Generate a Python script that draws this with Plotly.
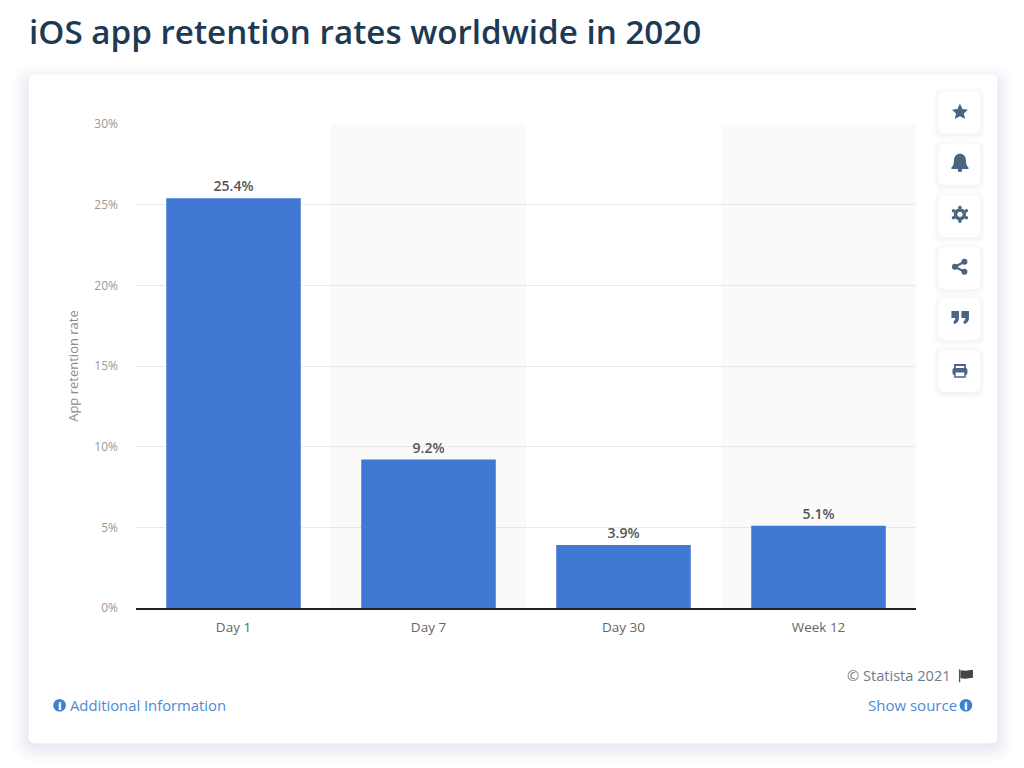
import plotly.graph_objects as go

FONT = "Open Sans"

categories = ["Day 1", "Day 7", "Day 30", "Week 12"]
retention = [25.4, 9.2, 3.9, 5.1]
y_ticks = [0, 5, 10, 15, 20, 25, 30]
y_tick_labels = ["0%", "5%", "10%", "15%", "20%", "25%", "30%"]
shaded_bands = [1, 3]

# the page body has an 8px margin, so the figure is a bit smaller than the window
BODY = 8
W = 1024 - BODY
H = 768 - BODY
LEFT, RIGHT, TOP, BOTTOM = 135.5, 916.5, 123.5, 608.5


# decoration is written in screen pixels, paper coords are relative to the plot area
def px(x, y):
    return (x - LEFT) / (RIGHT - LEFT), (BOTTOM - y) / (BOTTOM - TOP)


def path(cmds):
    out = []
    for c in cmds:
        if len(c) == 1:
            out.append(c[0])
            continue
        nums = []
        for i in range(1, len(c), 2):
            a, b = px(c[i], c[i + 1])
            nums.append("%.5f,%.5f" % (a, b))
        out.append(c[0] + " ".join(nums))
    return " ".join(out)


def round_rect(x0, y0, x1, y1, r, fill, layer="below"):
    p = path([
        ("M", x0 + r, y0), ("L", x1 - r, y0), ("Q", x1, y0, x1, y0 + r),
        ("L", x1, y1 - r), ("Q", x1, y1, x1 - r, y1), ("L", x0 + r, y1),
        ("Q", x0, y1, x0, y1 - r), ("L", x0, y0 + r), ("Q", x0, y0, x0 + r, y0), ("Z",),
    ])
    return dict(type="path", xref="paper", yref="paper", path=p, fillcolor=fill,
                line=dict(width=0), layer=layer)


def circle(cx, cy, r, fill, layer="above"):
    a0, b0 = px(cx - r, cy - r)
    a1, b1 = px(cx + r, cy + r)
    return dict(type="circle", xref="paper", yref="paper", x0=a0, y0=b0, x1=a1, y1=b1,
                fillcolor=fill, line=dict(width=0), layer=layer)


def poly(points, fill):
    cmds = [("M",) + points[0]] + [("L",) + p for p in points[1:]] + [("Z",)]
    return dict(type="path", xref="paper", yref="paper", path=path(cmds), fillcolor=fill,
                line=dict(width=0), layer="above")


def label(text, x, y, size, color, anchor="left", weight=None):
    a, b = px(x, y)
    f = dict(family=FONT, size=size, color=color)
    if weight:
        f["weight"] = weight
    return dict(text=text, x=a, y=b, xref="paper", yref="paper", xanchor=anchor, yanchor="middle",
                showarrow=False, font=f)


shapes = []

# card and its soft shadow, sits low so the top edge is nearly invisible
for grow, col in [(16, "rgba(232,234,244,0.16)"), (12, "rgba(232,234,244,0.18)"), (8, "rgba(230,232,242,0.2)"),
                  (5, "rgba(228,230,240,0.25)"), (2, "rgba(222,224,234,0.3)")]:
    shapes.append(round_rect(28 - grow, 74 - grow + 6, 998 + grow, 744 + grow + 3, 8 + grow, col))
shapes.append(round_rect(28, 74, 998, 744, 6, "#ffffff"))

# alternate bands behind the bars
for b in shaded_bands:
    shapes.append(dict(type="rect", xref="x", yref="paper", x0=b - 0.5, x1=b + 0.5,
                       y0=0, y1=1, fillcolor="#fafafa", line=dict(width=0), layer="below"))

# toolbar buttons on the right
ICON = "#4a6484"
button_tops = [91, 143, 195, 247, 298, 350]
for top in button_tops:
    for grow, col in [(5, "rgba(225,228,238,0.1)"), (3, "rgba(225,228,238,0.15)"), (1, "rgba(225,228,238,0.2)")]:
        shapes.append(round_rect(939 - grow, top - grow + 1, 981 + grow, top + 42 + grow + 1, 6 + grow, col, "above"))
    shapes.append(round_rect(939, top, 981, top + 42, 6, "#ffffff", "above"))

# star
shapes.append(poly([(960.5, 103), (963, 108.5), (968.5, 109.2), (964.4, 113), (965.6, 118.5), (960.5, 115.7),
                    (955.4, 118.5), (956.6, 113), (952.5, 109.2), (958, 108.5)], ICON))
# bell
shapes.append(dict(type="path", xref="paper", yref="paper", line=dict(width=0), fillcolor=ICON, layer="above",
                   path=path([("M", 960.5, 153), ("Q", 966.5, 154, 966.5, 160), ("Q", 966.5, 165, 969, 167),
                              ("L", 969, 168.5), ("L", 952, 168.5), ("L", 952, 167),
                              ("Q", 954.5, 165, 954.5, 160), ("Q", 954.5, 154, 960.5, 153), ("Z",)])))
shapes.append(circle(960.5, 169.5, 2.2, ICON))
# gear
shapes.append(circle(960.5, 214, 6.2, ICON))
for dx, dy in [(0, -7), (0, 7), (-6.5, -3.5), (6.5, -3.5), (-6.5, 3.5), (6.5, 3.5)]:
    shapes.append(circle(960.5 + dx, 214 + dy, 1.7, ICON))
shapes.append(circle(960.5, 214, 2.6, "#ffffff"))
# share
shapes.append(circle(955.5, 266.5, 3, ICON))
shapes.append(circle(965, 261.5, 3, ICON))
shapes.append(circle(965, 271.5, 3, ICON))
shapes.append(poly([(955, 265.5), (964.5, 260.5), (965.5, 262.5), (956, 267.5)], ICON))
shapes.append(poly([(956, 265.5), (965.5, 270.5), (964.5, 272.5), (955, 267.5)], ICON))
# quote marks
for qx in [952, 962]:
    shapes.append(dict(type="path", xref="paper", yref="paper", line=dict(width=0), fillcolor=ICON, layer="above",
                       path=path([("M", qx, 311), ("L", qx + 7.5, 311), ("L", qx + 7.5, 318),
                                  ("Q", qx + 7.5, 323, qx + 2.5, 324), ("L", qx + 2, 321.5),
                                  ("Q", qx + 4, 320.5, qx + 4, 318), ("L", qx, 318), ("Z",)])))
# printer
shapes.append(round_rect(953, 368, 968, 375, 2, ICON, "above"))
shapes.append(dict(type="path", xref="paper", yref="paper", fillcolor="rgba(0,0,0,0)", layer="above",
                   line=dict(width=1.8, color=ICON),
                   path=path([("M", 955.5, 369), ("L", 955.5, 365), ("L", 965.5, 365), ("L", 965.5, 369)])))
shapes.append(round_rect(955.5, 372.5, 965.5, 377, 0.5, "#ffffff", "above"))
shapes.append(dict(type="path", xref="paper", yref="paper", fillcolor="rgba(0,0,0,0)", layer="above",
                   line=dict(width=1.5, color=ICON),
                   path=path([("M", 955.5, 372.5), ("L", 955.5, 377), ("L", 965.5, 377), ("L", 965.5, 372.5)])))

# info bubbles and the little flag
BLUE = "#4a8bd6"
INFO = "#3f7fd0"
shapes.append(circle(59, 706, 6.3, INFO))
shapes.append(circle(966.5, 706, 6.3, INFO))
shapes.append(poly([(959.5, 670), (960.8, 670), (960.8, 683), (959.5, 683)], "#555555"))
shapes.append(poly([(961, 671), (966, 671.5), (973.5, 670.5), (973.5, 678.5), (966, 679.5), (961, 679)], "#444444"))

annotations = [
    label("iOS app retention rates worldwide in 2020", 26, 31, 33.2, "#1d3a55", weight=600),
    label("© Statista 2021", 845, 676, 14.6, "#6f7b88"),
    label("Additional Information", 67, 706, 14.8, BLUE),
    label("Show source", 866, 706, 15, BLUE),
    label("i", 59, 706, 11, "#ffffff", "center", 800),
    label("i", 966.5, 706, 11, "#ffffff", "center", 800),
]

fig = go.Figure(go.Bar(
    x=categories,
    y=retention,
    width=0.69,
    marker=dict(color="#4178d4", line=dict(width=0)),
    texttemplate="%{y:.1f}%",
    textposition="outside",
    textfont=dict(family=FONT, size=14, color="#555555", weight=600),
    cliponaxis=False,
))

fig.update_layout(
    width=W,
    height=H,
    autosize=False,
    showlegend=False,
    paper_bgcolor="#ffffff",
    plot_bgcolor="rgba(0,0,0,0)",
    margin=dict(l=LEFT - BODY, r=W - (RIGHT - BODY), t=TOP - BODY, b=H - (BOTTOM - BODY), pad=0),
    shapes=shapes,
    annotations=annotations,
    font=dict(family=FONT),
    xaxis=dict(
        type="category",
        range=[-0.5, 3.5],
        showgrid=False,
        showline=True,
        linecolor="#222222",
        linewidth=1.5,
        ticks="",
        ticklabelstandoff=6,
        tickfont=dict(family=FONT, size=13.5, color="#666666"),
    ),
    yaxis=dict(
        range=[0, 30],
        tickvals=y_ticks,
        ticktext=y_tick_labels,
        showgrid=True,
        gridcolor="#d6d6d6",
        griddash="1px,1px",
        gridwidth=1,
        zeroline=False,
        ticks="",
        ticklabelstandoff=17,
        tickfont=dict(family=FONT, size=12, color="#999999"),
        title=dict(text="App retention rate", standoff=12, font=dict(family=FONT, size=13, color="#8c8c8c")),
    ),
)

fig.write_html("out.html")
